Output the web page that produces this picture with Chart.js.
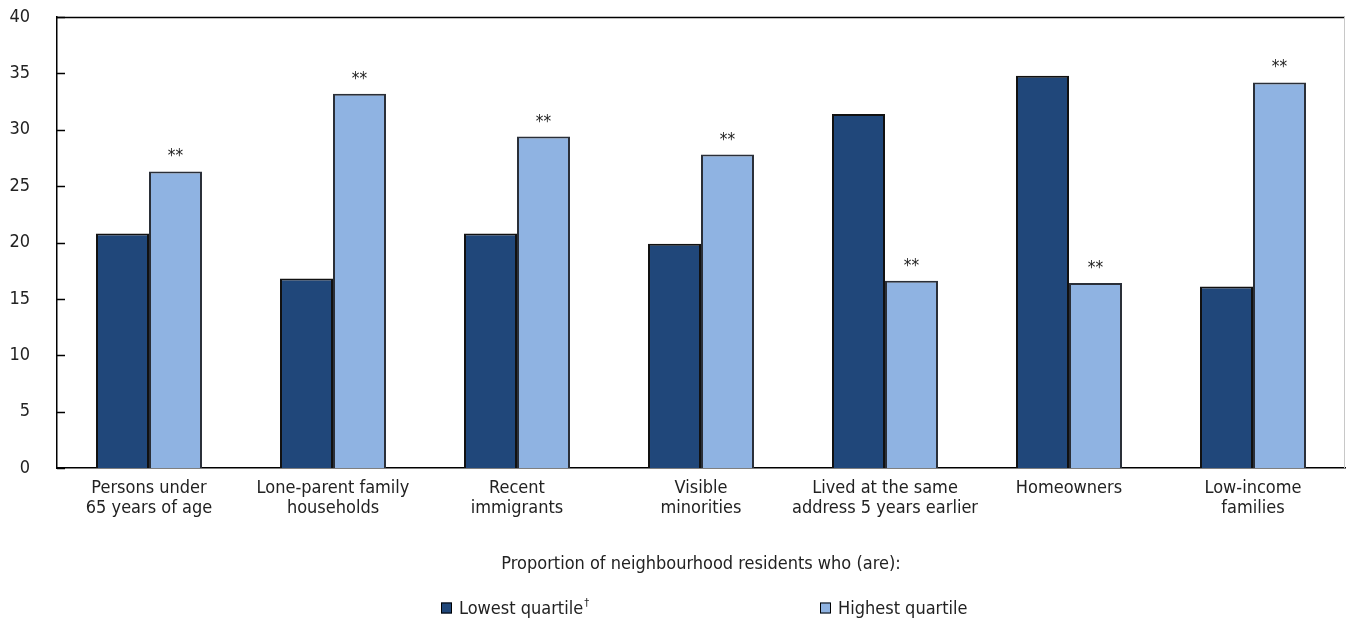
<!DOCTYPE html>
<html>
<head>
<meta charset="utf-8">
<script src="https://cdn.jsdelivr.net/npm/chart.js@4/dist/chart.umd.min.js"></script>
<style>
  html, body { margin: 0; padding: 0; background: #ffffff; }
  #wrap { width: 1346px; height: 621px; position: relative; }
</style>
</head>
<body>
<div id="wrap"><canvas id="chart" width="1346" height="621"></canvas></div>
<script>
// Neighbourhood composition, lowest vs highest quartile
const categories = [
  ["Persons under", "65 years of age"],
  ["Lone-parent family", "households"],
  ["Recent", "immigrants"],
  ["Visible", "minorities"],
  ["Lived at the same", "address 5 years earlier"],
  ["Homeowners"],
  ["Low-income", "families"]
];
const lowestQuartile  = [20.8, 16.8, 20.8, 19.9, 31.4, 34.8, 16.1];
const highestQuartile = [26.3, 33.2, 29.4, 27.8, 16.6, 16.4, 34.2];
// significance marker shown above the highest-quartile bar
const highestMarks = ["**", "**", "**", "**", "**", "**", "**"];
const yTicks = [0, 5, 10, 15, 20, 25, 30, 35, 40];
const seriesNames = ["Lowest quartile", "Highest quartile"];
const axisTitle = "Proportion of neighbourhood residents who (are):";

const FONT = "'Liberation Sans Narrow', 'DejaVu Sans Condensed', 'Arial Narrow', sans-serif";
const TEXT = "#222222";
const DARK = "#20477a";
const LIGHT = "#8fb3e2";

// frame, inward y ticks, significance markers and legend
const decorations = {
  id: "decorations",
  afterDatasetsDraw(chart) {
    const { ctx, chartArea: a, scales } = chart;
    ctx.save();
    // top edge of the frame
    ctx.strokeStyle = "#000";
    ctx.lineWidth = 1.5;
    ctx.beginPath();
    ctx.moveTo(a.left, a.top + 0.5);
    ctx.lineTo(a.right, a.top + 0.5);
    ctx.stroke();
    // faint right edge
    ctx.strokeStyle = "#c8c8c8";
    ctx.lineWidth = 1;
    ctx.beginPath();
    ctx.moveTo(a.right - 0.5, a.top);
    ctx.lineTo(a.right - 0.5, a.bottom);
    ctx.stroke();
    // inward ticks on the value axis
    ctx.strokeStyle = "#000";
    ctx.lineWidth = 1.5;
    yTicks.forEach(v => {
      const y = Math.round(scales.y.getPixelForValue(v)) + 0.5;
      ctx.beginPath();
      ctx.moveTo(a.left, y);
      ctx.lineTo(a.left + 8, y);
      ctx.stroke();
    });
    // ** markers over the highest-quartile bars
    const meta = chart.getDatasetMeta(1);
    ctx.fillStyle = TEXT;
    ctx.font = "17px " + FONT;
    ctx.textAlign = "center";
    ctx.textBaseline = "alphabetic";
    meta.data.forEach((bar, i) => {
      if (highestMarks[i]) ctx.fillText(highestMarks[i], bar.x, bar.y - 10);
    });
    // legend
    const items = [
      { label: seriesNames[0], sup: "\u2020", color: DARK, x: 441 },
      { label: seriesNames[1], sup: "", color: LIGHT, x: 820 }
    ];
    const ly = 608;
    items.forEach(it => {
      ctx.fillStyle = it.color;
      ctx.fillRect(it.x, ly - 5.5, 11, 11);
      ctx.strokeStyle = "#000";
      ctx.lineWidth = 1;
      ctx.strokeRect(it.x + 0.5, ly - 5, 10, 10);
      ctx.fillStyle = TEXT;
      ctx.font = "18px " + FONT;
      ctx.textAlign = "left";
      ctx.textBaseline = "middle";
      ctx.fillText(it.label, it.x + 18, ly + 1);
      if (it.sup) {
        const w = ctx.measureText(it.label).width;
        ctx.font = "11px " + FONT;
        ctx.fillText(it.sup, it.x + 18 + w + 1, ly - 5);
      }
    });
    ctx.restore();
  }
};

new Chart(document.getElementById("chart"), {
  type: "bar",
  data: {
    labels: categories,
    datasets: [
      { label: seriesNames[0], data: lowestQuartile, backgroundColor: DARK,
        borderColor: "#111", borderWidth: 2, categoryPercentage: 0.576, barPercentage: 1 },
      { label: seriesNames[1], data: highestQuartile, backgroundColor: LIGHT,
        borderColor: "#2a2f38", borderWidth: 2, categoryPercentage: 0.576, barPercentage: 1 }
    ]
  },
  options: {
    responsive: false,
    animation: false,
    layout: { padding: { top: 17, right: 1, bottom: 40, left: 0 } },
    plugins: { legend: { display: false }, tooltip: { enabled: false } },
    scales: {
      x: {
        grid: { display: false, drawTicks: false },
        border: { display: true, color: "#000", width: 1.5 },
        ticks: { color: TEXT, font: { family: FONT, size: 18, lineHeight: 1.12 }, padding: 10, maxRotation: 0, autoSkip: false },
        title: { display: true, text: axisTitle, color: TEXT, font: { family: FONT, size: 18 }, padding: { top: 0, bottom: 6 } },
        afterFit(s) { s.height = 113; s.paddingLeft = 0; s.paddingRight = 0; }
      },
      y: {
        min: 0, max: 40,
        afterBuildTicks(s) { s.ticks = yTicks.map(v => ({ value: v })); },
        grid: { display: false, drawTicks: false },
        border: { display: true, color: "#000", width: 1.5 },
        ticks: { color: TEXT, font: { family: FONT, size: 18 }, padding: 27 },
        afterFit(s) { s.width = 57; s.paddingTop = 0; s.paddingBottom = 0; }
      }
    }
  },
  plugins: [decorations]
});
</script>
</body>
</html>
